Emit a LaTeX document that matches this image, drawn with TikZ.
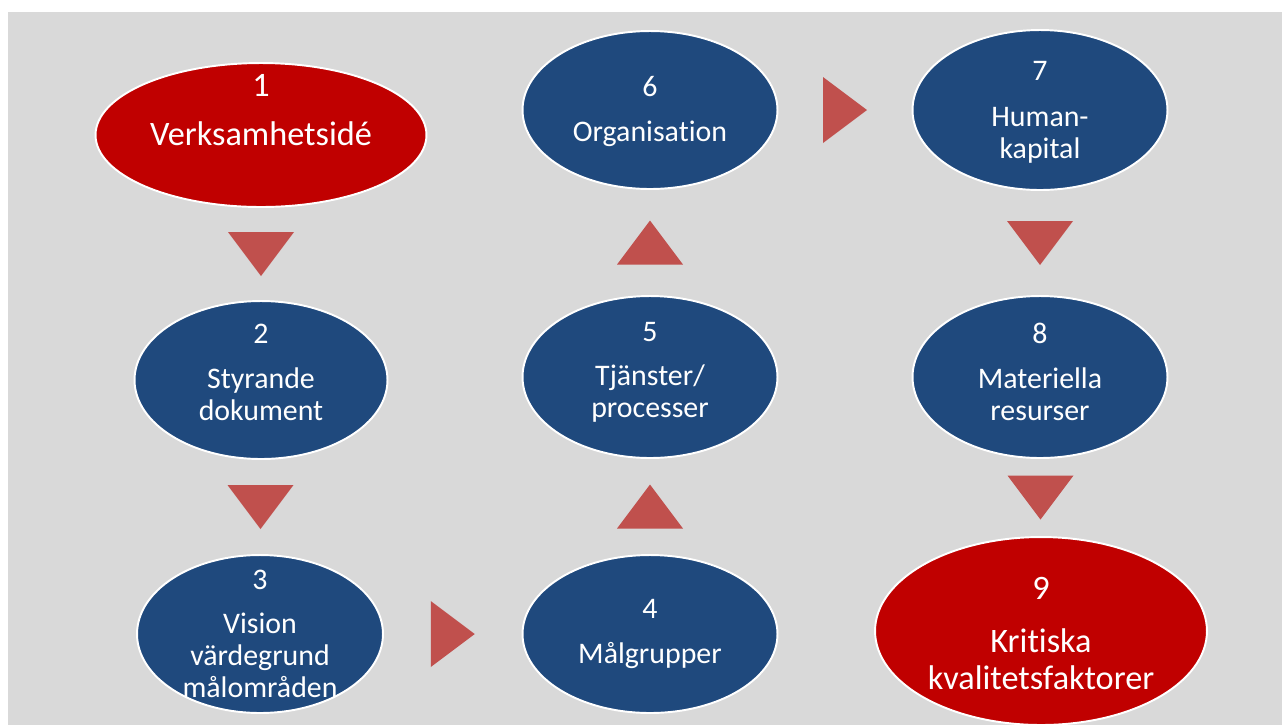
\documentclass[tikz,border=0pt]{standalone}
\usepackage{fontspec}
\setmainfont{Carlito}[Ligatures=NoCommon]
\usetikzlibrary{shapes.geometric,calc}
\definecolor{bggray}{HTML}{D9D9D9}
\definecolor{kred}{HTML}{C00000}
\definecolor{kblue}{HTML}{1F497D}
\definecolor{tricol}{HTML}{C0504D}
\tikzset{
  ell/.style={ellipse, draw=white, line width=1.1pt, inner sep=0pt},
  redell/.style={ell, fill=kred, minimum width=6.62cm, minimum height=2.88cm},
  blueell/.style={ell, fill=kblue, minimum width=5.1cm, minimum height=3.16cm},
  txt/.style={text=white, align=center, font=\fontsize{17}{18.2}\selectfont},
  bigtxt/.style={txt, font=\fontsize{19.5}{21}\selectfont},
  tri/.style={fill=tricol}
}
\begin{document}
\begin{tikzpicture}[x=0.02cm,y=-0.02cm]
  \useasboundingbox (0,0) rectangle (1282,725);
  \fill[bggray] (8,12) rectangle (1282,725);

  % ellipses
  \node[redell] (e1) at (261,135) {};
  \node[blueell, minimum width=5.06cm] (e2) at (261,380) {};
  \node[blueell, minimum width=4.92cm] (e3) at (260,634) {};
  \node[blueell] (e4) at (650,634) {};
  \node[blueell, minimum height=3.24cm] (e5) at (650,377) {};
  \node[blueell] (e6) at (650,110) {};
  \node[blueell, minimum height=3.2cm] (e7) at (1040,110) {};
  \node[blueell, minimum height=3.24cm] (e8) at (1040,377) {};
  \node[redell, minimum width=6.64cm, minimum height=3.76cm] (e9) at (1041,631) {};

  % texts
  \node[bigtxt, yshift=0.5cm] (t1) at (e1) {1\\[7pt]Verksamhetsidé};
  \node[txt, yshift=0.15cm] (t2) at (e2) {2\\[7pt]Styrande\\dokument};
  \node[txt] (t3) at (e3) {3\\[7pt]Vision\\värdegrund\\målområden};
  \node[txt] (t4) at (e4) {4\\[7pt]Målgrupper};
  \node[txt, yshift=0.1cm] (t5) at (e5) {5\\[7pt]Tjänster/\\processer};
  \node[txt, yshift=-0.03cm] (t6) at (e6) {6\\[7pt]Organisation};
  \node[txt, yshift=-0.05cm] (t7) at (e7) {7\\[8pt]Human-\\kapital};
  \node[txt, yshift=0.1cm] (t8) at (e8) {8\\[7pt]Materiella\\resurser};
  \node[bigtxt, yshift=-0.05cm] (t9) at (e9) {9\\[9pt]Kritiska\\kvalitetsfaktorer};

  % arrows
  \coordinate (d12) at ($(e1.south)!0.5!(e2.north)$);
  \coordinate (d23) at ($(e2.south)!0.5!(e3.north)$);
  \coordinate (r34) at ($(e3.east)!0.5!(e4.west)$);
  \coordinate (u45) at ($(e4.north)!0.5!(e5.south)$);
  \coordinate (u56) at ($(e5.north)!0.5!(e6.south)$);
  \coordinate (r67) at ($(e6.east)!0.5!(e7.west)$);
  \coordinate (d78) at ($(e7.south)!0.5!(e8.north)$);
  \coordinate (d89) at ($(e8.south)!0.5!(e9.north)$);
  \fill[tri] ($(d12)+(-33,-22)$) -- ++(66,0) -- ++(-33,44) -- cycle;
  \fill[tri] ($(d23)+(-33,-22)$) -- ++(66,0) -- ++(-33,44) -- cycle;
  \fill[tri] ($(r34)+(-22,-33)$) -- ++(0,66) -- ++(44,-33) -- cycle;
  \fill[tri] ($(u45)+(-33,22)$) -- ++(66,0) -- ++(-33,-44) -- cycle;
  \fill[tri] ($(u56)+(-33,22)$) -- ++(66,0) -- ++(-33,-44) -- cycle;
  \fill[tri] ($(r67)+(-22,-33)$) -- ++(0,66) -- ++(44,-33) -- cycle;
  \fill[tri] ($(d78)+(-33,-22)$) -- ++(66,0) -- ++(-33,44) -- cycle;
  \fill[tri] ($(d89)+(-33,-22)$) -- ++(66,0) -- ++(-33,44) -- cycle;
\end{tikzpicture}
\end{document}
